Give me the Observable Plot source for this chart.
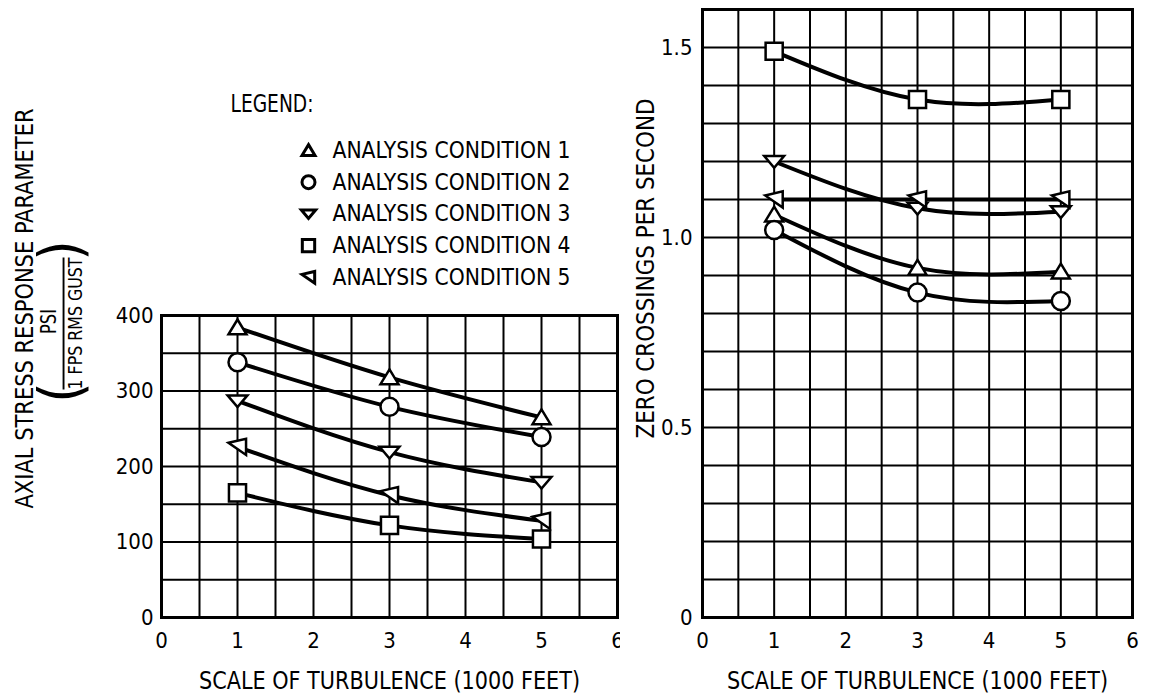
<!DOCTYPE html>
<html>
<head>
<meta charset="utf-8">
<script src="https://cdn.jsdelivr.net/npm/d3@7"></script>
<script src="https://cdn.jsdelivr.net/npm/@observablehq/plot@0.6"></script>
<style>
  html, body { margin: 0; padding: 0; background: #fff; }
  #page { position: relative; width: 1174px; height: 698px; display: flex; overflow: hidden; }
  #page svg { overflow: visible; }
  #page svg text { font-stretch: condensed; }
</style>
</head>
<body>
<div id="page"></div>
<script>
// Scale of turbulence (1000 ft) at which each condition was analysed
const scaleOfTurbulence = [1, 3, 5];

const conditionNames = [
  "ANALYSIS CONDITION 1",
  "ANALYSIS CONDITION 2",
  "ANALYSIS CONDITION 3",
  "ANALYSIS CONDITION 4",
  "ANALYSIS CONDITION 5"
];

// Axial stress response parameter, PSI / (1 FPS RMS gust)
const stressCondition1 = [384, 318, 265];
const stressCondition2 = [338, 279, 239];
const stressCondition3 = [287, 219, 179];
const stressCondition4 = [165, 122, 104];
const stressCondition5 = [226, 162, 128];

// Zero crossings per second
const crossingsCondition1 = [1.06, 0.92, 0.91];
const crossingsCondition2 = [1.02, 0.855, 0.833];
const crossingsCondition3 = [1.20, 1.077, 1.068];
const crossingsCondition4 = [1.49, 1.363, 1.363];
const crossingsCondition5 = [1.10, 1.10, 1.10];

// Tick labels
const turbulenceTicks = [0, 1, 2, 3, 4, 5, 6];
const stressTicks = [0, 100, 200, 300, 400];
const crossingsTicks = [0, 0.5, 1.0, 1.5];

const stressSeries = [stressCondition1, stressCondition2, stressCondition3, stressCondition4, stressCondition5];
const crossingsSeries = [crossingsCondition1, crossingsCondition2, crossingsCondition3, crossingsCondition4, crossingsCondition5];

const FONT = "'DejaVu Sans Condensed', 'Liberation Sans Narrow', 'DejaVu Sans', sans-serif";

// Marker outlines, drawn relative to the dot radius
function polygonSymbol(points) {
  return {
    draw(ctx, size) {
      const r = Math.sqrt(size / Math.PI);
      ctx.moveTo(points[0][0] * r, points[0][1] * r);
      for (let i = 1; i < points.length; ++i) ctx.lineTo(points[i][0] * r, points[i][1] * r);
      ctx.closePath();
    }
  };
}
const circleSymbol = {
  draw(ctx, size) {
    const r = Math.sqrt(size / Math.PI);
    ctx.moveTo(r, 0);
    ctx.arc(0, 0, r, 0, 2 * Math.PI);
  }
};
const conditionSymbols = [
  polygonSymbol([[0, -0.9], [1, 0.75], [-1, 0.75]]),          // triangle up
  circleSymbol,                                              // circle
  polygonSymbol([[-1.1, -0.6], [1.1, -0.6], [0, 0.7]]),       // triangle down
  polygonSymbol([[-0.95, -0.95], [0.95, -0.95], [0.95, 0.95], [-0.95, 0.95]]), // square
  polygonSymbol([[-1, -0.45], [0.95, -0.9], [0.95, 0.9]])     // triangle pointing left
];

function rowsFor(series) {
  return series.flatMap((values, i) =>
    values.map((v, j) => ({condition: conditionNames[i], scale: scaleOfTurbulence[j], value: v, index: i})));
}

const gridStyle = {stroke: "#000", strokeOpacity: 1, strokeWidth: 2};

function seriesMarks(rows) {
  const marks = [
    Plot.line(rows, {x: "scale", y: "value", z: "condition", curve: "natural", stroke: "#000", strokeWidth: 4})
  ];
  conditionNames.forEach((name, i) => {
    marks.push(Plot.dot(rows.filter(d => d.index === i), {
      x: "scale", y: "value", symbol: conditionSymbols[i], r: 9,
      fill: "#fff", stroke: "#000", strokeWidth: 2.5
    }));
  });
  return marks;
}

// Rotated title placed relative to the left edge of the frame
function sideTitle(label, frameLeft, frameMid, cx, cy, fontSize, extra = {}) {
  return Plot.text([label], {
    frameAnchor: "left", rotate: -90, dx: cx - frameLeft, dy: cy - frameMid,
    text: d => d, textAnchor: "middle", lineAnchor: "middle", fontSize, fill: "#000", ...extra
  });
}

// Squeeze a text run to the given length
function fitText(svg, content, length) {
  d3.select(svg).selectAll("text")
    .filter(function () { return this.textContent === content; })
    .attr("textLength", length)
    .attr("lengthAdjust", "spacingAndGlyphs");
}

// ---- Left panel: axial stress response parameter ----
const stressRows = rowsFor(stressSeries);
const L = {left: 161, top: 315, right: 3, bottom: 81, width: 620, height: 698};
const frameMidY = L.top + (L.height - L.top - L.bottom) / 2;

const legendMarks = [
  Plot.text(["LEGEND:"], {frameAnchor: "top-left", dx: 230 - L.left, dy: 104 - L.top,
    text: d => d, textAnchor: "start", lineAnchor: "middle", fontSize: 24, fill: "#000"})
];
conditionNames.forEach((name, i) => {
  const rowY = 150 + i * 31.7;
  legendMarks.push(Plot.dot([name], {frameAnchor: "top-left", dx: 308 - L.left, dy: rowY - L.top,
    symbol: conditionSymbols[i], r: 6.5, fill: "#fff", stroke: "#000", strokeWidth: 3}));
  legendMarks.push(Plot.text([name], {frameAnchor: "top-left", dx: 332 - L.left, dy: rowY - L.top,
    text: d => d, textAnchor: "start", lineAnchor: "middle", fontSize: 23, fill: "#000"}));
});

const leftChart = Plot.plot({
  width: L.width,
  height: L.height,
  marginLeft: L.left,
  marginRight: L.right,
  marginTop: L.top,
  marginBottom: L.bottom,
  style: {fontFamily: FONT, fontSize: "22px", color: "#000", background: "#fff"},
  x: {domain: [0, 6]},
  y: {domain: [0, 400]},
  marks: [
    Plot.gridX(d3.range(0, 6.01, 0.5), gridStyle),
    Plot.gridY(d3.range(0, 401, 50), gridStyle),
    Plot.frame({stroke: "#000", strokeWidth: 3}),
    Plot.axisX(turbulenceTicks, {tickSize: 0, tickPadding: 15, fontSize: 22, label: null}),
    Plot.axisY(stressTicks, {tickSize: 0, tickPadding: 8, fontSize: 22, label: null}),
    ...seriesMarks(stressRows),
    Plot.text(["SCALE OF TURBULENCE (1000 FEET)"], {frameAnchor: "bottom", dy: 64,
      text: d => d, textAnchor: "middle", lineAnchor: "middle", fontSize: 24, fill: "#000"}),
    sideTitle("AXIAL STRESS RESPONSE PARAMETER", L.left, frameMidY, 24, 308, 25),
    sideTitle("PSI", L.left, frameMidY, 48, 321, 22),
    sideTitle("1 FPS RMS GUST", L.left, frameMidY, 75, 323, 19),
    sideTitle("(", L.left, frameMidY, 62, 392, 58, {fontWeight: 300}),
    sideTitle(")", L.left, frameMidY, 62, 250, 58, {fontWeight: 300}),
    ...legendMarks
  ]
});

fitText(leftChart, "SCALE OF TURBULENCE (1000 FEET)", 381);
fitText(leftChart, "AXIAL STRESS RESPONSE PARAMETER", 400);
fitText(leftChart, "1 FPS RMS GUST", 132);
fitText(leftChart, "PSI", 25);
fitText(leftChart, "LEGEND:", 83);
conditionNames.forEach(name => fitText(leftChart, name, 238));

// The fraction bar sits over the denominator
d3.select(leftChart).selectAll("text")
  .filter(function () { return this.textContent === "1 FPS RMS GUST"; })
  .style("text-decoration", "overline");

// ---- Right panel: zero crossings per second ----
const crossingsRows = rowsFor(crossingsSeries);
const R = {left: 82, top: 9, right: 42, bottom: 81, width: 554, height: 698};
const rFrameMidY = R.top + (R.height - R.top - R.bottom) / 2;

const rightChart = Plot.plot({
  width: R.width,
  height: R.height,
  marginLeft: R.left,
  marginRight: R.right,
  marginTop: R.top,
  marginBottom: R.bottom,
  style: {fontFamily: FONT, fontSize: "22px", color: "#000", background: "#fff"},
  x: {domain: [0, 6]},
  y: {domain: [0, 1.6]},
  marks: [
    Plot.gridX(d3.range(0, 6.01, 0.5), gridStyle),
    Plot.gridY(d3.range(0, 16.01, 1).map(d => d / 10), gridStyle),
    Plot.frame({stroke: "#000", strokeWidth: 3}),
    Plot.axisX(turbulenceTicks, {tickSize: 0, tickPadding: 15, fontSize: 22, label: null}),
    Plot.axisY(crossingsTicks, {tickSize: 0, tickPadding: 10, fontSize: 22, label: null,
      tickFormat: d => d === 0 ? "0" : d.toFixed(1)}),
    ...seriesMarks(crossingsRows),
    Plot.text(["SCALE OF TURBULENCE (1000 FEET)"], {frameAnchor: "bottom", dy: 64,
      text: d => d, textAnchor: "middle", lineAnchor: "middle", fontSize: 24, fill: "#000"}),
    sideTitle("ZERO CROSSINGS PER SECOND", R.left, rFrameMidY, 25, 268, 25)
  ]
});

fitText(rightChart, "SCALE OF TURBULENCE (1000 FEET)", 381);
fitText(rightChart, "ZERO CROSSINGS PER SECOND", 340);

const page = document.getElementById("page");
page.appendChild(leftChart);
page.appendChild(rightChart);
</script>
</body>
</html>
